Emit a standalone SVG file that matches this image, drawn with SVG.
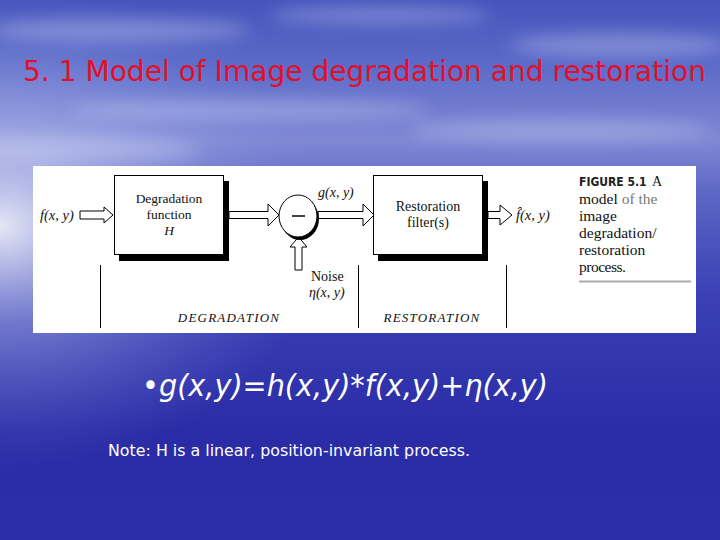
<svg xmlns="http://www.w3.org/2000/svg" width="720" height="540" viewBox="0 0 720 540">
<defs>
<linearGradient id="sky" x1="0" y1="0" x2="0" y2="1">
<stop offset="0" stop-color="#4654bc"/>
<stop offset="0.12" stop-color="#5c6ac8"/>
<stop offset="0.26" stop-color="#8088d4"/>
<stop offset="0.36" stop-color="#5c66c4"/>
<stop offset="0.55" stop-color="#3a40b4"/>
<stop offset="0.8" stop-color="#2a2ca6"/>
<stop offset="1" stop-color="#2a2ea8"/>
</linearGradient>
<radialGradient id="glow" cx="0" cy="0.42" r="0.45">
<stop offset="0" stop-color="#ffffff" stop-opacity="0.85"/>
<stop offset="0.4" stop-color="#c8d0f4" stop-opacity="0.4"/>
<stop offset="1" stop-color="#8090e0" stop-opacity="0"/>
</radialGradient>
<filter id="blur" x="-20%" y="-50%" width="140%" height="200%"><feGaussianBlur stdDeviation="8"/></filter>
<style>
.serif{font-family:"Liberation Serif","Times New Roman",serif;fill:#111}
.box{fill:#fff;stroke:#000;stroke-width:1}
.shadow{fill:#000}
.harrow{fill:#fff;stroke:#000;stroke-width:1;stroke-linejoin:miter}
.vline{stroke:#000;stroke-width:1}
</style>
</defs>
<rect width="720" height="540" fill="url(#sky)"/>
<rect width="720" height="540" fill="url(#glow)"/>
<g filter="url(#blur)" fill="#dde3fa" opacity="0.3">
<ellipse cx="120" cy="30" rx="130" ry="12"/>
<ellipse cx="380" cy="15" rx="110" ry="9"/>
<ellipse cx="620" cy="45" rx="110" ry="12"/>
<ellipse cx="250" cy="110" rx="180" ry="10"/>
<ellipse cx="560" cy="130" rx="150" ry="10"/>
<ellipse cx="80" cy="150" rx="120" ry="12"/>
</g>

<text x="23" y="81" font-family="'DejaVu Sans Condensed','DejaVu Sans',sans-serif" font-size="28" fill="#e0102a" textLength="683" lengthAdjust="spacingAndGlyphs">5. 1 Model of Image degradation and restoration</text>

<rect x="33" y="166" width="663" height="167" fill="#fff"/>

<g id="connectors">
<path class="harrow" d="M80,211 H104 V207 L113,215 L104,223 V219 H80 Z"/>
<path class="harrow" d="M229,211.5 H268 V204 L279,215 L268,226 V218.5 H229 Z"/>
<path class="harrow" d="M318,211.5 H363 V204 L374,215 L363,226 V218.5 H318 Z"/>
<path class="harrow" d="M488,211.5 H500 V205 L512,215 L500,225 V218.5 H488 Z"/>
<path class="harrow" d="M295,270 V247 H290 L298.5,237 L307,247 H302 V270 Z"/>
</g>

<g id="degradation">
<rect class="shadow" x="119" y="181" width="110" height="80"/>
<rect class="box" x="114.5" y="175.5" width="109" height="79"/>
<text class="serif" font-size="13.5" text-anchor="middle" x="169" y="203">Degradation</text>
<text class="serif" font-size="13.5" text-anchor="middle" x="169" y="219">function</text>
<text class="serif" font-size="13.5" font-style="italic" text-anchor="middle" x="169" y="235">H</text>
</g>

<g id="sum">
<ellipse cx="300" cy="219" rx="19" ry="21" fill="#000"/>
<ellipse cx="298" cy="216" rx="19" ry="21" fill="#fff" stroke="#000" stroke-width="1"/>
<line x1="292" y1="216" x2="305" y2="216" stroke="#000" stroke-width="1.5"/>
<text class="serif" font-size="14" font-style="italic" x="318" y="197">g(x, y)</text>
</g>

<g id="noise">
<text class="serif" font-size="14" x="311" y="281">Noise</text>
<text class="serif" font-size="14" font-style="italic" x="309" y="297">η(x, y)</text>
</g>

<g id="input">
<text class="serif" font-size="14.5" font-style="italic" x="40" y="220">f(x, y)</text>
</g>

<g id="restoration">
<rect class="shadow" x="378" y="181" width="110" height="80"/>
<rect class="box" x="373.5" y="175.5" width="109" height="79"/>
<text class="serif" font-size="14" text-anchor="middle" x="428" y="211">Restoration</text>
<text class="serif" font-size="14" text-anchor="middle" x="428" y="227">filter(s)</text>
</g>

<g id="output">
<text class="serif" font-size="14.5" font-style="italic" x="516" y="220">f̂(x, y)</text>
</g>

<g id="sections">
<line class="vline" x1="100.5" y1="265" x2="100.5" y2="328"/>
<line class="vline" x1="358.5" y1="265" x2="358.5" y2="328"/>
<line class="vline" x1="506.5" y1="265" x2="506.5" y2="328"/>
<text class="serif" font-size="13" font-style="italic" text-anchor="middle" x="229" y="322" letter-spacing="1.2">DEGRADATION</text>
<text class="serif" font-size="13" font-style="italic" text-anchor="middle" x="432" y="322" letter-spacing="1.2">RESTORATION</text>
</g>

<g id="caption">
<text x="579" y="186" font-family="'Liberation Sans Narrow','DejaVu Sans Condensed',sans-serif" font-weight="bold" font-size="12" fill="#222">FIGURE 5.1</text>
<text class="serif" font-size="14" x="652" y="186">A</text>
<text class="serif" font-size="15.5" x="579" y="204">model <tspan fill="#777">of the</tspan></text>
<text class="serif" font-size="15.5" x="579" y="221">image</text>
<text class="serif" font-size="15.5" x="579" y="238">degradation/</text>
<text class="serif" font-size="15.5" x="579" y="255">restoration</text>
<text class="serif" font-size="15.5" x="579" y="272" letter-spacing="-0.5">process.</text>
<line x1="579" y1="281.5" x2="691" y2="281.5" stroke="#aaa" stroke-width="2"/>
</g>

<text x="142" y="396" font-family="'DejaVu Sans','Liberation Sans',sans-serif" font-size="30" font-style="italic" fill="#fff" textLength="406" lengthAdjust="spacingAndGlyphs">•g(x,y)=h(x,y)*f(x,y)+η(x,y)</text>
<text x="108" y="456" font-family="'DejaVu Sans','Liberation Sans',sans-serif" font-size="15" fill="#fff" textLength="362" lengthAdjust="spacingAndGlyphs">Note: H is a linear, position-invariant process.</text>
</svg>
